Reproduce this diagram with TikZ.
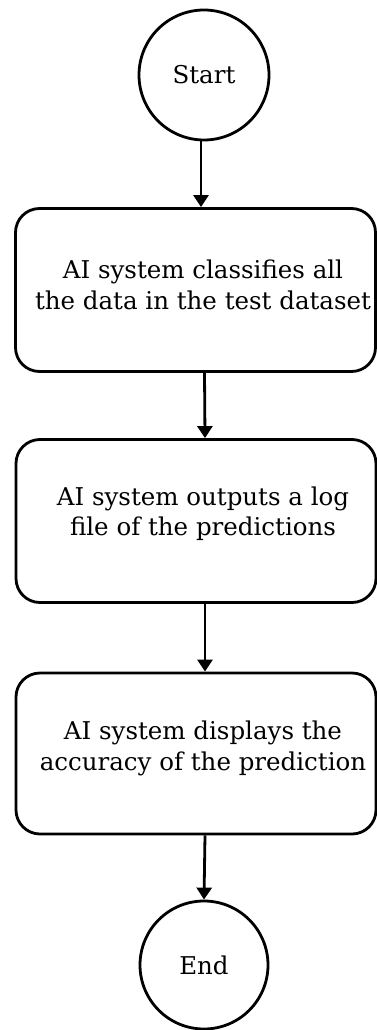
\documentclass[tikz,border=0pt]{standalone}
\usepackage{fontspec}
\setmainfont{DejaVu Serif}
\usetikzlibrary{arrows.meta}
\begin{document}
\begin{tikzpicture}[x=1pt,y=-1pt,
  every node/.style={font=\fontsize{24.5}{30.5}\selectfont},
  terminal/.style={circle,draw,line width=2.8pt,minimum size=130pt,inner sep=0pt},
  stepbox/.style={rectangle,rounded corners=24pt,draw,line width=2.8pt,
    minimum width=360pt,minimum height=163pt,inner sep=0pt},
  boxtext/.style={align=center,inner sep=0pt},
  flow/.style={line width=2.8pt,-{Triangle[length=12pt,width=15pt]}}]
\useasboundingbox (0,0) rectangle (377,1030);
\node[terminal] (start) at (204,75) {Start};
\node[stepbox] (b1) at (195.5,290) {};
\node[boxtext] (t1) at (203,285) {AI system classifies all\\the data in the test dataset};
\node[stepbox] (b2) at (196,521) {};
\node[boxtext] (t2) at (203,513.5) {AI system outputs a log\\file of the predictions};
\node[stepbox,minimum height=161pt] (b3) at (196,753.5) {};
\node[boxtext] (t3) at (203,748.5) {AI system displays the\\accuracy of the prediction};
\node[terminal,minimum size=128pt] (end) at (204,965) {End};
\draw[flow] ([xshift=-3pt]start.south) -- ([xshift=-3pt]start.south |- b1.north);
\draw[flow] ([xshift=9pt]b1.south) -- ([xshift=9pt]b2.north);
\draw[flow] ([xshift=9pt]b2.south) -- ([xshift=9pt]b3.north);
\draw[flow] ([xshift=9pt]b3.south) -- (end.north);
\end{tikzpicture}
\end{document}
